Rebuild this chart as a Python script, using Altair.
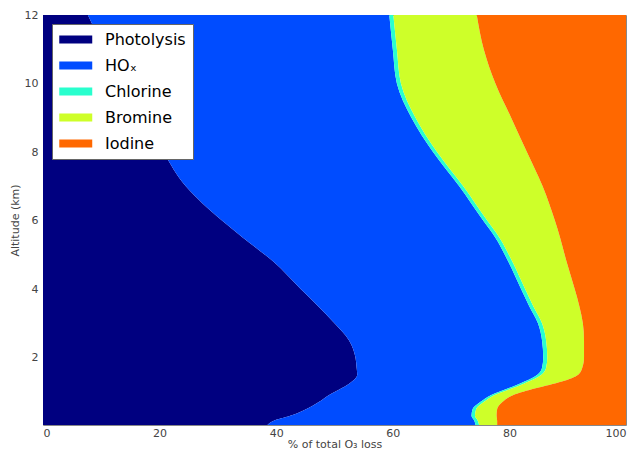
import altair as alt
import pandas as pd

altitude = [0.03, 0.15, 0.3, 0.5, 0.7, 0.9, 1.1, 1.3, 1.5, 1.7, 2.0, 2.5, 3.0,
            3.5, 4.0, 4.8, 5.5, 6.0, 7.0, 8.0, 9.0, 10.0, 11.0, 12.0]
photolysis = [38.5, 39.5, 42.4, 45.2, 47.3, 49.0, 51.2, 53.0, 53.9, 53.8, 53.6, 52.5, 50.0,
              47.2, 44.2, 39.5, 34.3, 30.7, 24.5, 20.6, 17.0, 13.5, 10.5, 7.7]
hox = [35.7, 34.5, 31.1, 28.5, 27.7, 27.8, 28.6, 29.6, 30.9, 31.8, 32.2, 33.1, 34.9,
       36.2, 37.8, 40.3, 43.3, 44.8, 46.9, 46.3, 46.2, 47.2, 49.5, 51.7]
chlorine = [0.6, 0.6, 0.6, 0.6, 0.6, 0.6, 0.7, 0.7, 0.7, 0.7, 0.7, 0.7, 0.7,
            0.7, 0.7, 0.7, 0.7, 0.7, 0.7, 0.7, 0.7, 0.7, 0.7, 0.7]
bromine = [3.1, 3.3, 3.7, 3.6, 3.2, 3.2, 4.0, 5.7, 6.3, 6.2, 6.3, 6.5, 7.0,
           7.9, 8.5, 9.3, 10.4, 11.6, 13.6, 15.4, 16.4, 16.2, 14.9, 14.3]
iodine = [22.1, 22.1, 22.2, 22.1, 21.2, 19.4, 15.5, 11.0, 8.2, 7.5, 7.2, 7.2, 7.4,
          8.0, 8.8, 10.2, 11.3, 12.2, 14.3, 17.0, 19.7, 22.4, 24.4, 25.6]

species = ["Photolysis", "HOₓ", "Chlorine", "Bromine", "Iodine"]
colors = ["#000080", "#004cff", "#29ffce", "#ceff29", "#ff6800"]
series = [photolysis, hox, chlorine, bromine, iodine]

rows = []
for i, a in enumerate(altitude):
    cum = 0.0
    for k, name in enumerate(species):
        lo = cum
        cum += series[k][i]
        rows.append({"alt": a, "species": name, "order": k, "lo": lo, "hi": min(cum, 100.0)})
df = pd.DataFrame(rows)

chart = alt.Chart(df).mark_area(orient="horizontal", interpolate="monotone").encode(
    y=alt.Y("alt:Q", title="Altitude (km)",
            scale=alt.Scale(domain=[0.03, 12], nice=False, zero=False),
            axis=alt.Axis(values=[2, 4, 6, 8, 10, 12], grid=False, ticks=False,
                          domain=False, labelPadding=5, titlePadding=4)),
    x=alt.X("lo:Q", title="% of total O₃ loss",
            scale=alt.Scale(domain=[0, 100], nice=False),
            axis=alt.Axis(values=[0, 20, 40, 60, 80, 100], grid=False, ticks=False,
                          domain=False, labelPadding=2, titlePadding=0)),
    x2="hi:Q",
    color=alt.Color("species:N", sort=species,
                    scale=alt.Scale(domain=species, range=colors),
                    legend=alt.Legend(title=None, orient="none", legendX=9, legendY=9,
                                      symbolType="M-1,-0.5H3V0.5H-1Z", symbolSize=272,
                                      symbolStrokeWidth=0, symbolOpacity=1,
                                      labelFont="DejaVu Sans", labelFontSize=16,
                                      labelColor="#000", labelOffset=29,
                                      rowPadding=9, padding=7,
                                      strokeColor="#666", fillColor="#ffffff")),
    order="order:Q",
).properties(
    width=583, height=410,
    autosize=alt.AutoSizeParams(type="none"),
    padding={"left": 35, "top": 7, "right": 5, "bottom": 27},
).configure_view(
    stroke="#888", strokeWidth=1
).configure_axis(
    labelFont="DejaVu Sans", titleFont="DejaVu Sans", labelFontSize=11,
    titleFontSize=11, labelColor="#444", titleColor="#444", titleFontWeight="normal"
)

chart.save("out.html", embed_options={"renderer": "svg", "actions": False})
